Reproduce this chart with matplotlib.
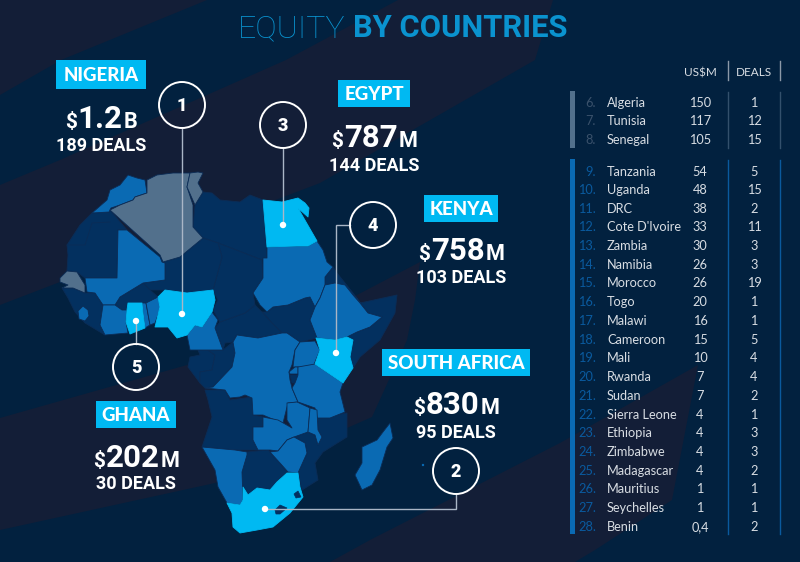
import matplotlib
matplotlib.use("Agg")
import matplotlib.pyplot as plt
from matplotlib.patches import Polygon, Circle, Rectangle

# table on the right
ranks_grey = ["6.", "7.", "8."]
names_grey = ["Algeria", "Tunisia", "Senegal"]
usd_grey = ["150", "117", "105"]
deals_grey = ["1", "12", "15"]

ranks_blue = ["9.", "10.", "11.", "12.", "13.", "14.", "15.", "16.", "17.", "18.",
              "19.", "20.", "21.", "22.", "23.", "24.", "25.", "26.", "27.", "28."]
names_blue = ["Tanzania", "Uganda", "DRC", "Cote D'Ivoire", "Zambia", "Namibia", "Morocco",
              "Togo", "Malawi", "Cameroon", "Mali", "Rwanda", "Sudan", "Sierra Leone",
              "Ethiopia", "Zimbabwe", "Madagascar", "Mauritius", "Seychelles", "Benin"]
usd_blue = ["54", "48", "38", "33", "30", "26", "26", "20", "16", "15",
            "10", "7", "7", "4", "4", "4", "4", "1", "1", "0,4"]
deals_blue = ["5", "15", "2", "11", "3", "3", "19", "1", "1", "5",
              "4", "4", "2", "1", "3", "3", "2", "1", "1", "2"]

# top 5 labels
top_names = ["NIGERIA", "SOUTH AFRICA", "EGYPT", "KENYA", "GHANA"]
top_values = ["1.2", "830", "787", "758", "202"]
top_units = ["B", "M", "M", "M", "M"]
top_deals = ["189 DEALS", "95 DEALS", "144 DEALS", "103 DEALS", "30 DEALS"]

# country outlines, in picture pixels
morocco = [(128,175),(137,178),(145,180),(147,193),(135,197),(133,200),(120,205),(111,208),(109,212),(92,213),(107,200),(110,190),(120,185)]
algeria = [(147,180),(157,175),(173,173),(190,173),(187,187),(193,205),(193,227),(203,238),(180,257),(163,262),(160,255),(110,210),(120,205),(133,200),(135,197),(147,193)]
tunisia = [(190,173),(198,172),(203,173),(198,183),(203,192),(195,205),(187,187)]
libya = [(203,192),(195,205),(193,227),(203,238),(218,243),(262,260),(263,258),(267,258),(263,200),(250,195),(240,202),(220,200),(212,193)]
egypt = [(263,200),(282,202),(298,198),(305,203),(309,208),(308,217),(298,208),(317,241),(308,246),(297,246),(267,247)]
sudan = [(267,247),(297,246),(308,246),(317,241),(323,250),(327,262),(333,267),(325,277),(325,285),(320,298),(315,307),(310,297),(305,298),(288,305),(273,307),(267,312),(260,305),(253,293),(263,278),(263,258),(267,258)]
eritrea = [(325,277),(333,267),(337,273),(353,293),(356,297),(350,295),(340,285),(325,285)]
ethiopia = [(325,285),(335,283),(345,285),(353,295),(360,303),(368,313),(382,317),(370,327),(357,332),(347,337),(335,340),(317,338),(310,320),(315,307),(320,298)]
somalia = [(356,297),(360,303),(397,295),(395,313),(380,340),(360,357),(353,368),(350,357),(353,340),(347,337),(357,332),(370,327),(382,317),(368,313)]
kenya = [(316,338),(335,340),(347,337),(353,340),(350,357),(353,368),(343,383),(315,364),(320,350)]
south_sudan = [(262,312),(267,312),(273,307),(288,305),(305,298),(310,297),(315,307),(310,320),(317,338),(300,342),(287,333),(282,333),(272,323)]
car = [(215,328),(220,322),(245,313),(255,305),(262,312),(272,323),(282,333),(258,338),(237,335),(233,342),(225,343),(223,350)]
chad = [(218,243),(262,260),(263,278),(253,293),(255,305),(245,313),(220,322),(213,310),(218,300),(213,290),(222,257)]
niger = [(163,262),(180,257),(203,238),(218,243),(222,257),(213,290),(187,293),(165,290),(150,290),(143,283),(165,280),(165,263)]
mali = [(118,230),(127,230),(160,257),(162,262),(165,263),(165,280),(143,283),(120,297),(115,305),(103,305),(95,293),(87,292),(85,278),(117,278)]
mauritania = [(92,213),(109,212),(110,210),(127,230),(118,230),(117,278),(85,278),(77,272),(67,271),(68,255),(67,245),(80,225)]
senegal = [(60,278),(67,271),(77,272),(85,285),(85,293),(73,288),(62,288),(68,285),(60,282)]
guinea = [(62,288),(73,288),(85,293),(95,293),(103,305),(100,325),(105,335),(85,323),(75,312),(68,298)]
sierra_leone = [(78,311),(83,306),(88,310),(89,316),(85,321),(79,319)]
ivory_coast = [(103,305),(115,305),(122,310),(127,310),(126,322),(128,333),(105,335),(100,325)]
burkina = [(115,305),(120,297),(143,283),(150,290),(158,297),(147,303),(128,303),(127,310),(122,310)]
ghana = [(128,303),(142,303),(143,313),(145,328),(130,334),(126,322),(127,310)]
togo = [(142,303),(146,303),(150,325),(145,328),(143,313)]
benin = [(146,303),(158,297),(161,307),(155,323),(150,325)]
nigeria = [(165,290),(187,293),(213,290),(215,300),(212,312),(202,327),(195,325),(187,335),(177,338),(168,327),(155,327),(160,307),(158,297)]
cameroon = [(215,300),(212,312),(218,320),(215,328),(223,350),(190,350),(187,335),(195,325),(202,327),(212,312)]
gabon = [(190,357),(200,355),(198,350),(208,350),(215,355),(212,370),(200,372),(200,383),(188,367)]
congo = [(208,350),(223,350),(233,342),(235,353),(232,367),(213,387),(205,388),(200,383),(200,372),(212,370),(215,355)]
drc = [(237,335),(258,338),(282,333),(287,333),(300,342),(295,350),(292,365),(289,372),(290,380),(292,388),(298,402),(288,403),(287,407),(283,423),(270,418),(263,415),(253,415),(252,398),(245,395),(240,397),(230,398),(225,390),(205,388),(213,387),(232,367),(235,353),(233,342)]
uganda = [(300,342),(315,341),(320,350),(315,362),(313,367),(293,367),(295,350)]
rwanda = [(289,372),(295,367),(298,367),(298,374),(290,374)]
burundi = [(290,375),(298,375),(295,383),(292,383)]
tanzania = [(298,367),(315,364),(343,383),(340,392),(345,412),(330,418),(317,418),(315,408),(298,402),(292,388),(295,383),(298,375)]
angola = [(205,390),(225,390),(230,400),(252,397),(253,415),(263,417),(263,427),(253,427),(253,440),(258,450),(235,450),(202,447),(212,417),(208,400)]
zambia = [(263,417),(278,420),(292,428),(287,420),(287,403),(297,402),(310,408),(308,432),(294,437),(287,440),(278,451),(270,450),(258,450),(253,440),(253,427),(263,427)]
malawi = [(310,408),(317,410),(318,430),(322,437),(318,445),(315,435),(308,432)]
mozambique = [(317,418),(347,413),(347,437),(323,452),(315,463),(318,480),(302,490),(298,473),(307,453),(305,443),(294,437),(308,432),(315,435),(318,445),(322,437),(318,430)]
zimbabwe = [(270,452),(278,451),(287,440),(294,437),(305,443),(307,453),(298,473),(288,472),(280,463)]
namibia = [(202,447),(235,450),(247,452),(247,455),(242,472),(243,500),(240,505),(227,503),(218,487),(215,470)]
botswana = [(247,452),(268,450),(280,463),(287,472),(277,482),(270,490),(257,488),(248,495),(243,487),(242,472)]
south_africa = [(243,487),(248,495),(257,488),(270,490),(277,482),(287,473),(298,473),(300,487),(303,497),(290,513),(273,527),(257,530),(240,533),(233,527),(232,513),(227,503),(240,505),(243,500)]
lesotho = [(275,510),(280,505),(287,508),(280,514),(276,514)]
swaziland = [(294,494),(298,491),(301,497),(296,498)]
madagascar = [(390,423),(393,438),(387,447),(380,470),(372,485),(362,490),(355,475),(362,463),(362,447),(377,440),(383,432)]
western_sahara_line = [(67,245),(85,245),(92,223),(110,222)]

dark_lands = [libya, eritrea, somalia, south_sudan, car, chad, niger, mauritania, guinea, burkina,
              gabon, congo, burundi, angola, mozambique, botswana, lesotho, swaziland]
mid_lands = [morocco, sudan, ethiopia, mali, sierra_leone, ivory_coast, togo, benin, cameroon,
             drc, uganda, rwanda, tanzania, zambia, malawi, zimbabwe, namibia, madagascar]
grey_lands = [algeria, tunisia, senegal]
bright_lands = [egypt, kenya, ghana, nigeria, south_africa]

# background swooshes
swoosh_a = [(0,0),(207,0),(61,60),(0,95)]
swoosh_b = [(398,0),(553,0),(535,60),(320,183),(60,282),(0,305),(0,185),(60,160),(286,60)]
swoosh_c = [(0,418),(187,365),(357,295),(420,262),(415,300),(407,340),(372,417),(347,428),(215,483),(0,530)]
swoosh_d = [(330,562),(370,540),(560,443),(698,365),(672,500),(595,550),(575,562)]

NAVY = "#02213f"
DARK = "#131e37"
LAND_DARK = "#03305f"
LAND_MID = "#0a6ab3"
LAND_GREY = "#52708c"
BRIGHT = "#00b9f2"
BORDER = "#0b2c56"
TITLE = "#0a93cf"

plt.rcParams["font.family"] = ["Roboto", "DejaVu Sans"]

fig = plt.figure(figsize=(8, 5.62), dpi=100, facecolor=NAVY)
ax = fig.add_axes([0, 0, 1, 1])
ax.set_xlim(0, 800)
ax.set_ylim(562, 0)
ax.axis("off")

for s in [swoosh_a, swoosh_b, swoosh_c, swoosh_d]:
    ax.add_patch(Polygon(s, closed=True, fc=DARK, ec="none", zorder=1))

for group, col in [(dark_lands, LAND_DARK), (mid_lands, LAND_MID), (grey_lands, LAND_GREY), (bright_lands, BRIGHT)]:
    for land in group:
        ax.add_patch(Polygon(land, closed=True, fc=col, ec=BORDER if col != BRIGHT else col, lw=0.6, zorder=2 if col != BRIGHT else 3, joinstyle="round"))
# lesotho and swaziland sit inside south africa
for land in [lesotho, swaziland]:
    ax.add_patch(Polygon(land, closed=True, fc=LAND_DARK, ec=LAND_DARK, lw=0.5, zorder=4))
ax.plot([p[0] for p in western_sahara_line], [p[1] for p in western_sahara_line], color=BORDER, lw=0.6, zorder=2.5)
ax.add_patch(Circle((423, 465), 1.2, fc=LAND_MID, ec="none", zorder=2))

# title
renderer = fig.canvas.get_renderer()
ax.text(238, 37, "EQUITY", color=TITLE, fontsize=23, fontweight="light", va="baseline", ha="left", zorder=6)
ax.text(353, 37, "BY COUNTRIES", color=TITLE, fontsize=22.2, fontweight="bold", va="baseline", ha="left", zorder=6)


def number_label(cx, base, value, unit):
    # $ and unit are smaller than the digits, so lay the three out by hand
    parts = [("$", 15), (value, 22.5), (unit, 15.5)]
    texts = [ax.text(0, base, p, color="white", fontsize=s, fontweight="bold", va="baseline", ha="left", zorder=6) for p, s in parts]
    inv = ax.transData.inverted()
    widths = []
    for t in texts:
        bb = t.get_window_extent(renderer)
        widths.append(inv.transform((bb.x1, 0))[0] - inv.transform((bb.x0, 0))[0])
    x = cx - (sum(widths) + 2) / 2
    for t, w in zip(texts, widths):
        t.set_x(x)
        x += w + 1


boxes = [(56, 60, 90, 29), (382, 349, 148, 27), (338, 80, 72, 27), (424, 195, 74, 27), (96, 401, 80, 27)]
value_base = [128, 414, 147, 260, 467]
deals_base = [151, 438, 171, 283, 489]
for i in range(5):
    x0, y0, w, h = boxes[i]
    cx = x0 + w / 2
    ax.add_patch(Rectangle((x0, y0), w, h, fc=BRIGHT, ec="none", zorder=5))
    ax.text(cx, y0 + h / 2 + 6.5, top_names[i], color="white", fontsize=13.5, family="Lato", fontweight="black", ha="center", va="baseline", zorder=6)
    number_label(cx, value_base[i], top_values[i], top_units[i])
    ax.text(cx, deals_base[i], top_deals[i], color="white", fontsize=13, fontweight="bold", ha="center", va="baseline", zorder=6)

# numbered circles with leader lines
LINE = "#aab6c6"
circles = [(182, 105), (456, 471), (283, 125), (373, 225), (136, 367)]
leaders = [[(182, 129), (182, 314)],
           [(456, 494), (456, 509), (265, 509)],
           [(283, 149), (283, 225)],
           [(350, 225), (336, 225), (336, 353)],
           [(136, 344), (136, 321)]]
for i, (c, l) in enumerate(zip(circles, leaders)):
    ax.plot([p[0] for p in l], [p[1] for p in l], color=LINE, lw=1.0, zorder=5, solid_joinstyle="miter")
    ax.add_patch(Circle(l[-1], 3.2, fc="white", ec="none", zorder=6))
    ax.add_patch(Circle(c, 23, fc="none", ec="white", lw=1.4, zorder=6))
    ax.text(c[0], c[1] + 6, str(i + 1), color="white", fontsize=13, fontweight="black", ha="center", va="baseline", zorder=6)

# table
TXT = "#d8dde3"
ax.text(700, 76, "US$M", color=TXT, fontsize=8.5, family="Lato", ha="center", va="baseline", zorder=6)
ax.text(754, 76, "DEALS", color=TXT, fontsize=8.5, family="Lato", ha="center", va="baseline", zorder=6)
for x in [728, 780]:
    ax.plot([x, x], [61, 80], color="#8c99a8", lw=1, zorder=5)
    ax.plot([x, x], [92, 148], color="#33506c", lw=1, zorder=5)
    ax.plot([x, x], [160, 534], color="#0a5a9e", lw=1, zorder=5)
ax.add_patch(Rectangle((570, 91), 5, 57, fc="#52708c", ec="none", zorder=5))
ax.add_patch(Rectangle((570, 159), 5, 375, fc="#0a6ab3", ec="none", zorder=5))

rows_grey = [102, 120, 139]
rows_blue = [171, 189, 208, 226, 245, 264, 282, 301, 320, 339, 357, 376, 395, 414, 432, 451, 470, 488, 507, 526]
for rows, ranks, names, usd, deals, rank_col in [(rows_grey, ranks_grey, names_grey, usd_grey, deals_grey, "#3a516b"),
                                                 (rows_blue, ranks_blue, names_blue, usd_blue, deals_blue, "#0a5a9e")]:
    for y, r, n, u, d in zip(rows, ranks, names, usd, deals):
        ax.text(596, y + 5, r, color=rank_col, fontsize=9.2, family="Lato", ha="right", va="baseline", zorder=6)
        ax.text(607, y + 5, n, color=TXT, fontsize=9.2, family="Lato", ha="left", va="baseline", zorder=6)
        ax.text(700, y + 5, u, color=TXT, fontsize=9.2, family="Lato", ha="center", va="baseline", zorder=6)
        ax.text(754, y + 5, d, color=TXT, fontsize=9.2, family="Lato", ha="center", va="baseline", zorder=6)

fig.savefig("out.png", dpi=100, facecolor=NAVY)
